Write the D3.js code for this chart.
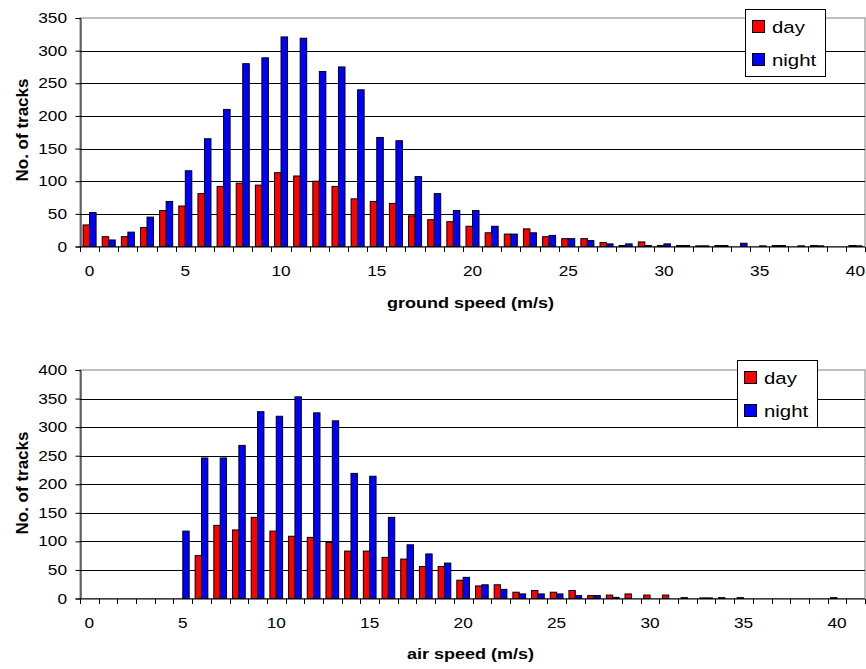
<!DOCTYPE html>
<html><head><meta charset="utf-8">
<script src="https://cdn.jsdelivr.net/npm/d3@7"></script>
<style>body{margin:0;background:#fff} text{font-family:"Liberation Sans",Arial,sans-serif;fill:#000}</style>
</head><body><svg id="c" width="866" height="669"></svg>
<script>
// ---- data ----
const groundCats = [0,1,2,3,4,5,6,7,8,9,10,11,12,13,14,15,16,17,18,19,20,21,22,23,24,25,26,27,28,29,30,31,32,33,34,35,36,37,38,39,40];
const groundDay = [33,15,15,29,55,62,81,92,97,94,113,108,100,92,73,69,66,47,41,38,31,21,19,27,15,12,12,6,1.5,7,1.5,1.5,1,1.5,0,0,1.5,0,1.5,0,1.5];
const groundNight = [52,10,22,45,69,116,165,210,280,289,321,319,268,275,240,167,162,107,81,55,55,31,19,21,17,12,9,4,4,1.5,4,1.5,1,1.5,5,1,1.5,1,1,0,1];
const airCats = [0,1,2,3,4,5,6,7,8,9,10,11,12,13,14,15,16,17,18,19,20,21,22,23,24,25,26,27,28,29,30,31,32,33,34,35,36,37,38,39,40,41];
const airDay = [0,0,0,0,0,0,75,128,120,142,118,109,107,98,83,83,72,69,56,56,32,22,24,11,14,11,14,5,6,8,6,6,1.5,1,1.5,1.5,0,0,0,0,1.5,0];
const airNight = [0,0,0,0,0,118,246,246,268,327,319,353,325,311,219,214,142,94,78,62,37,24,16,8,8,8,5,5,2,0,0,0,0,1,0,0,0,0,0,0,0,0];
const groundYTicks = [0,50,100,150,200,250,300,350];
const airYTicks = [0,50,100,150,200,250,300,350,400];
const xTickLabels = [0,5,10,15,20,25,30,35,40];
const seriesNames = ["day","night"];
const seriesColors = ["#ff0000","#0000ff"];

const svg = d3.select("#c");

function stretchText(g, x, y, str, size, sx, anchor, weight) {
  return g.append("text")
    .attr("transform", `translate(${x},${y}) scale(${sx},1)`)
    .attr("text-anchor", anchor)
    .style("font-size", size + "px")
    .style("font-weight", weight || "normal")
    .text(str);
}

function drawChart(cfg) {
  const g = svg.append("g");
  const x = d3.scaleBand().domain(cfg.cats).range([cfg.left, cfg.right]).paddingInner(0.32).paddingOuter(0.16);
  const step = x.step();
  const xs = d3.scaleBand().domain(seriesNames).range([0, x.bandwidth()]);
  const y = d3.scaleLinear().domain([0, cfg.yMax]).range([cfg.bottom, cfg.top]);

  // plot area border (grey)
  g.append("rect").attr("x", cfg.left).attr("y", y(cfg.yMax)).attr("width", cfg.right - cfg.left)
    .attr("height", y(0) - y(cfg.yMax)).attr("fill", "#fff").attr("stroke", "#808080").attr("stroke-width", 1);

  // gridlines
  g.selectAll(".grid").data(cfg.yTicks.filter(v => v > 0 && v < cfg.yMax)).enter().append("line")
    .attr("x1", cfg.left).attr("x2", cfg.right).attr("y1", d => Math.round(y(d)) + 0.5).attr("y2", d => Math.round(y(d)) + 0.5)
    .attr("stroke", "#000").attr("stroke-width", 1);

  // bars
  const rows = cfg.cats.map((c, i) => ({c, vals: [cfg.day[i], cfg.night[i]]}));
  const grp = g.selectAll(".cat").data(rows).enter().append("g").attr("transform", d => `translate(${x(d.c)},0)`);
  grp.selectAll("rect").data(d => d.vals.map((v, k) => ({k, v}))).enter().append("rect")
    .attr("x", d => xs(seriesNames[d.k]))
    .attr("width", xs.bandwidth())
    .attr("y", d => y(d.v))
    .attr("height", d => y(0) - y(d.v))
    .attr("fill", d => seriesColors[d.k])
    .attr("stroke", "#000").attr("stroke-width", 1)
    .attr("display", d => d.v > 0 ? null : "none");

  // y axis
  const yAxis = d3.axisLeft(y).tickValues(cfg.yTicks).tickSize(5).tickFormat(d3.format("d"));
  const ya = g.append("g").attr("transform", `translate(${cfg.left + 0.5},0)`).call(yAxis);
  ya.select(".domain").attr("stroke", "#000");
  ya.selectAll(".tick line").attr("stroke", "#000");
  ya.selectAll(".tick text").remove();
  cfg.yTicks.forEach(v => stretchText(g, cfg.left - 13, y(v) + 5, String(v), 15, 1.15, "end"));

  // x axis
  const xa = g.append("g").attr("transform", `translate(0,${cfg.bottom + 0.5})`);
  xa.append("line").attr("x1", cfg.left).attr("x2", cfg.right).attr("stroke", "#000");
  const bounds = cfg.cats.map(c => x(c) - x.paddingInner() * step / 2 );
  bounds.push(cfg.right);
  xa.selectAll(".xt").data(bounds).enter().append("line")
    .attr("x1", d => Math.round(d) + 0.5).attr("x2", d => Math.round(d) + 0.5).attr("y1", 0).attr("y2", 5).attr("stroke", "#000");
  xTickLabels.forEach(v => stretchText(g, x(v) + x.bandwidth() / 2, cfg.xLabelY, String(v), 15, 1.15, "middle"));

  // titles
  stretchText(g, (cfg.left + cfg.right) / 2 - 2, cfg.xTitleY, cfg.xTitle, 15, 1.2, "middle", "bold");
  g.append("text").attr("transform", `translate(28,${cfg.yTitleY}) rotate(-90)`).attr("text-anchor", "middle")
    .style("font-size", "17px").style("font-weight", "bold").text("No. of tracks");

  // legend
  const L = cfg.legend;
  const lg = g.append("g");
  lg.append("rect").attr("x", L.x + 0.5).attr("y", L.y + 0.5).attr("width", L.w).attr("height", L.h)
    .attr("fill", "#fff").attr("stroke", "#000");
  seriesNames.forEach((s, i) => {
    const cy = L.y + 18 + i * 33;
    lg.append("rect").attr("x", L.x + 7.5).attr("y", cy - 6.5).attr("width", 12).attr("height", 12)
      .attr("fill", seriesColors[i]).attr("stroke", "#000");
    stretchText(lg, L.x + 27, cy + 6, s, 17, 1.2, "start");
  });
}

drawChart({cats: groundCats, day: groundDay, night: groundNight, yMax: 350, yTicks: groundYTicks,
  left: 80, right: 865, top: 18, bottom: 246.5, xLabelY: 276, xTitle: "ground speed (m/s)", xTitleY: 308,
  yTitleY: 130, legend: {x: 745, y: 9, w: 80, h: 67}});
drawChart({cats: airCats, day: airDay, night: airNight, yMax: 400, yTicks: airYTicks,
  left: 80, right: 865, top: 370, bottom: 598.5, xLabelY: 628, xTitle: "air speed (m/s)", xTitleY: 659,
  yTitleY: 483, legend: {x: 737, y: 360, w: 80, h: 67}});
</script></body></html>
